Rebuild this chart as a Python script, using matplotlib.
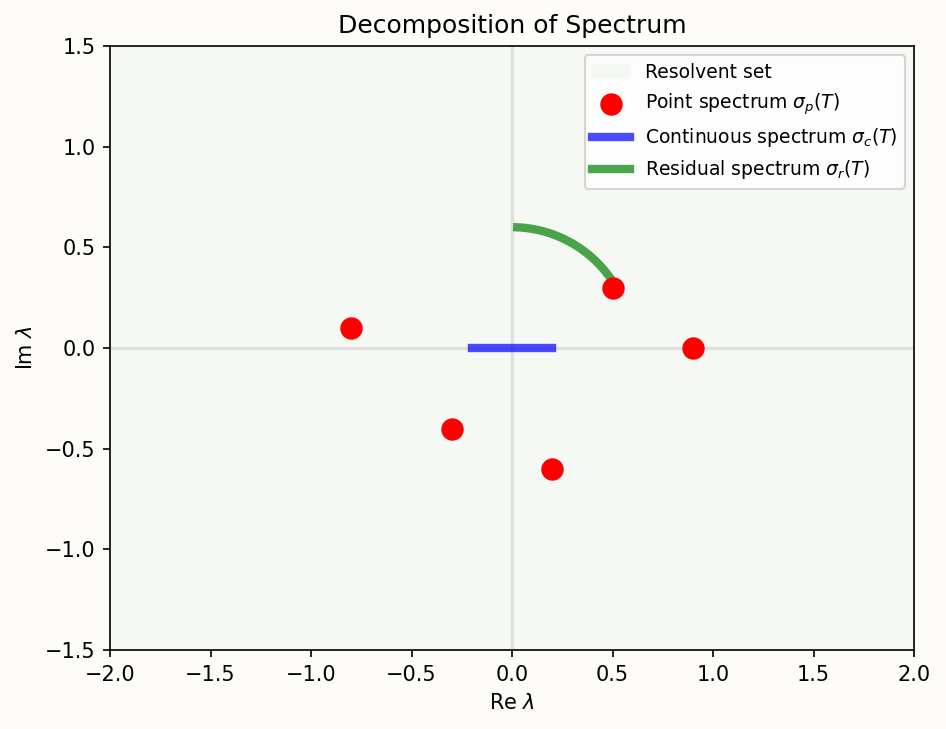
import numpy as np
import matplotlib.pyplot as plt

# point spectrum eigenvalues
point_re = [-0.8, -0.3, 0.2, 0.5, 0.9]
point_im = [0.1, -0.4, -0.6, 0.3, 0.0]

# continuous spectrum segment on real axis
cont_re = [-0.2, 0.2]
cont_im = [0.0, 0.0]

# residual spectrum arc: radius, start/end angle in degrees
arc_radius = 0.6
arc_start_deg = 30
arc_end_deg = 87.5

xlim = (-2, 2)
ylim = (-1.5, 1.5)


def main():
    fig = plt.figure(figsize=(6.3067, 4.86), dpi=150, facecolor='#fdfcf8')
    ax = fig.add_axes([0.1163, 0.1084, 0.8499, 0.8285])
    ax.set_facecolor('#fdfcf8')

    ax.fill_between(xlim, ylim[0], ylim[1], color='#f5f8f3', label='Resolvent set', zorder=0)
    ax.axhline(0, color='gray', alpha=0.2, linewidth=1.5, zorder=1)
    ax.axvline(0, color='gray', alpha=0.2, linewidth=1.5, zorder=1)

    ax.scatter(point_re, point_im, s=95, color='red', zorder=4,
               label=r'Point spectrum $\sigma_p(T)$')
    ax.plot(cont_re, cont_im, color='blue', alpha=0.7, linewidth=4, zorder=3,
            label=r'Continuous spectrum $\sigma_c(T)$')
    theta = np.radians(np.linspace(arc_start_deg, arc_end_deg, 100))
    ax.plot(arc_radius * np.cos(theta), arc_radius * np.sin(theta), color='green',
            alpha=0.7, linewidth=4, zorder=3, label=r'Residual spectrum $\sigma_r(T)$')

    ax.set_xlim(*xlim)
    ax.set_ylim(*ylim)
    ax.set_xlabel(r'Re $\lambda$')
    ax.set_ylabel(r'Im $\lambda$')
    ax.set_title('Decomposition of Spectrum', fontsize=12)
    ax.legend(loc='upper right', fontsize=9)

    fig.savefig('out.png', dpi=150, facecolor=fig.get_facecolor())


if __name__ == "__main__":
    main()
